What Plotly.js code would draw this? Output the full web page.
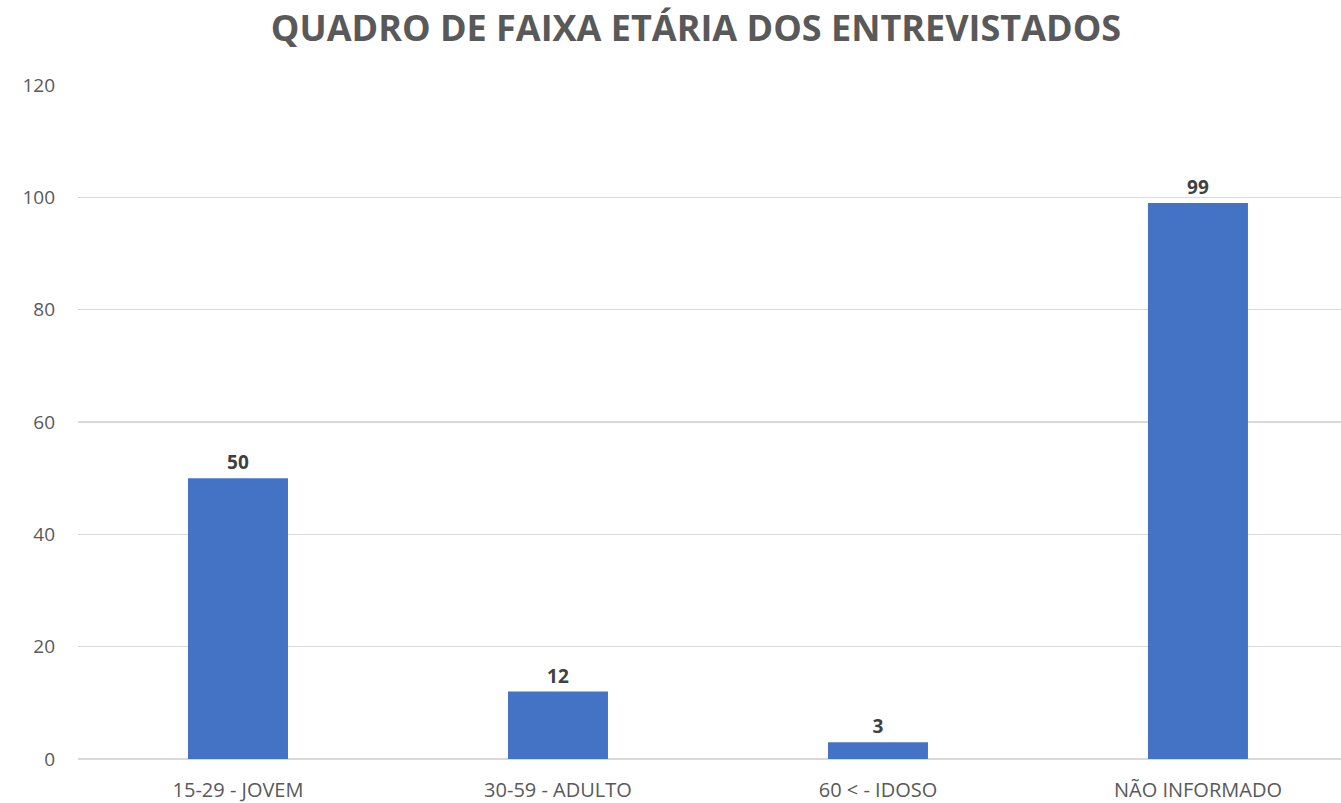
<!DOCTYPE html>
<html>
<head>
<meta charset="utf-8">
<script src="https://cdn.plot.ly/plotly-3.0.1.min.js"></script>
<style>
  html, body { margin: 0; padding: 0; background: #fff; }
  #chart { width: 1341px; height: 803px; }
</style>
</head>
<body>
<div id="chart"></div>
<script>
// faixa etária dos entrevistados
var faixas = ['15-29 - JOVEM', '30-59 - ADULTO', '60 < - IDOSO', 'NÃO INFORMADO'];
var quantidades = [50, 12, 3, 99];
var yTicks = [0, 20, 40, 60, 80, 100, 120];

var fonte = '"Open Sans", "Liberation Sans", sans-serif';

var trace = {
  x: faixas,
  y: quantidades,
  type: 'bar',
  width: 0.3125,
  marker: { color: '#4472C4' },
  text: quantidades.map(String),
  textposition: 'outside',
  cliponaxis: false,
  textfont: { family: fonte, size: 19, color: '#404040', weight: 'bold' },
  hoverinfo: 'x+y'
};

var layout = {
  width: 1341,
  height: 803,
  margin: { l: 78, r: 0, t: 85, b: 44 },
  paper_bgcolor: '#ffffff',
  plot_bgcolor: '#ffffff',
  showlegend: false,
  title: {
    text: '<b>QUADRO DE FAIXA ETÁRIA DOS ENTREVISTADOS</b>',
    font: { family: fonte, size: 36, color: '#595959' },
    x: 0.519,
    xanchor: 'center',
    y: 0.965,
    yanchor: 'middle'
  },
  xaxis: {
    type: 'category',
    range: [-0.5, 3.447],
    showgrid: false,
    zeroline: false,
    showline: false,
    ticks: '',
    tickfont: { family: fonte, size: 20, color: '#595959' },
    ticklabelstandoff: 17,
    fixedrange: true
  },
  yaxis: {
    range: [0, 120],
    tickvals: yTicks,
    ticktext: yTicks.map(String),
    showgrid: true,
    gridcolor: '#d9d9d9',
    gridwidth: 1.5,
    zeroline: true,
    zerolinecolor: '#d9d9d9',
    zerolinewidth: 1.5,
    showline: false,
    ticks: '',
    tickfont: { family: fonte, size: 19, color: '#595959' },
    ticklabelstandoff: 22,
    fixedrange: true
  }
};

Plotly.newPlot('chart', [trace], layout, { displayModeBar: false, staticPlot: true });
</script>
</body>
</html>
